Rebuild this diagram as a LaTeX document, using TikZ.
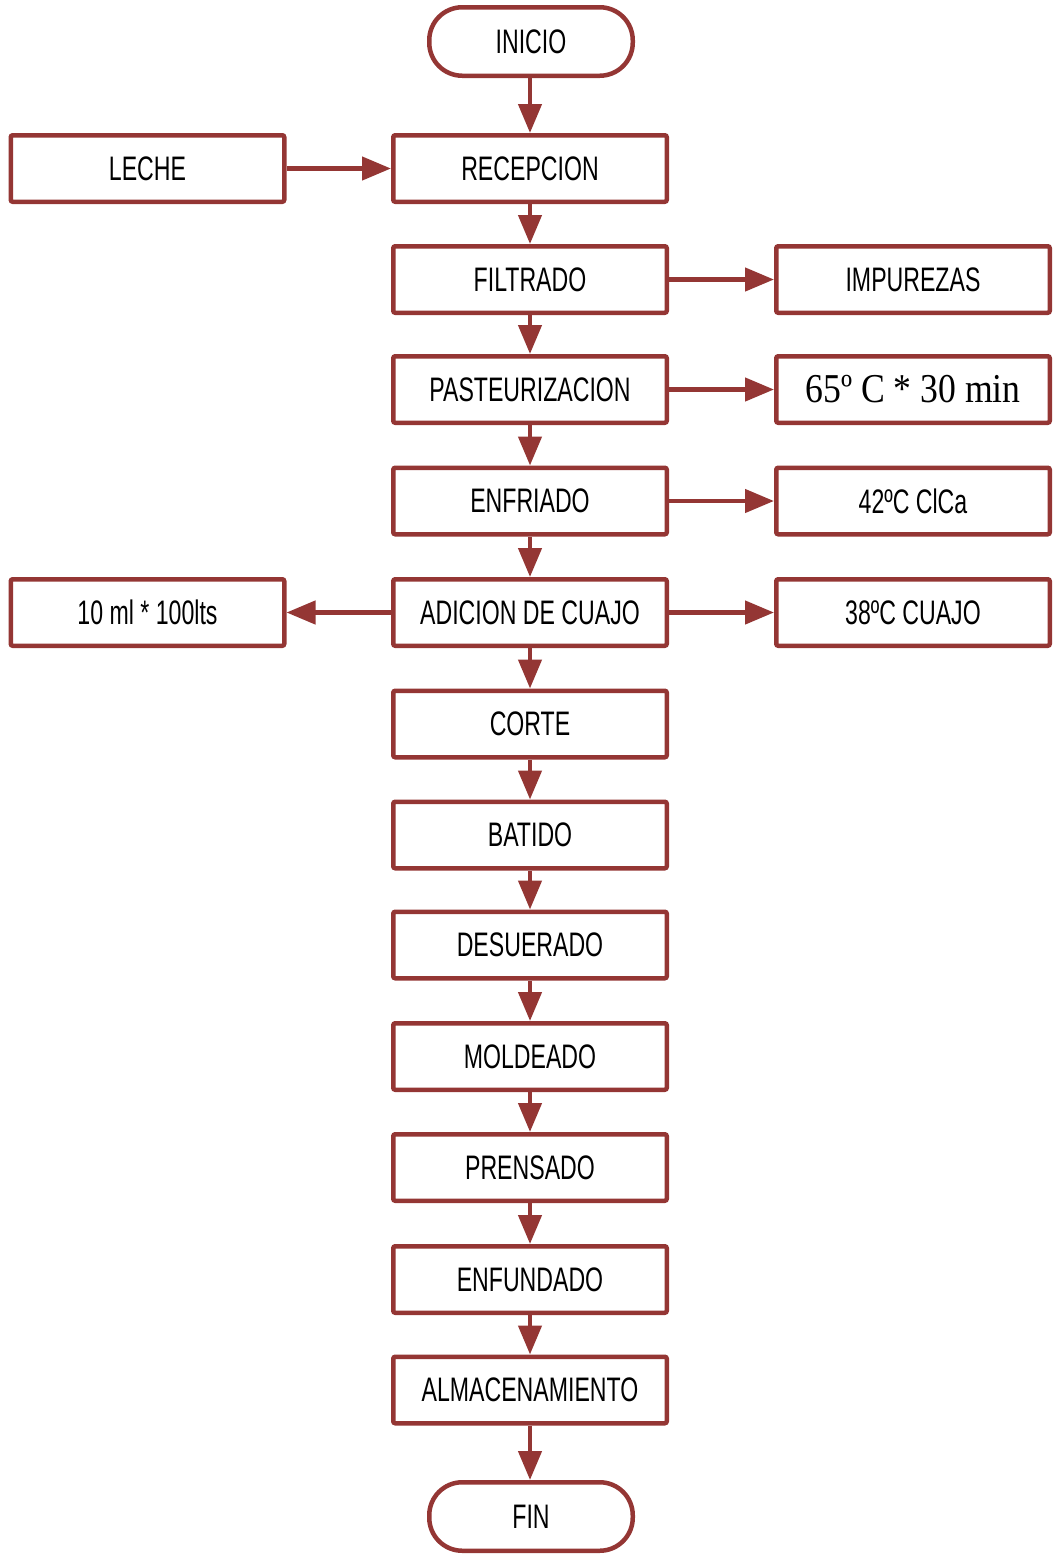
\documentclass[tikz,border=0pt]{standalone}
\usepackage{fontspec}
\usetikzlibrary{arrows.meta}
\newfontfamily\narfont{Liberation Sans}[FakeStretch=0.68]
\newfontfamily\serfont{Liberation Serif}[FakeStretch=0.87]
\definecolor{brick}{HTML}{943634}
\tikzset{
  box/.style={draw=brick, line width=4.5pt, rounded corners=2pt, minimum width=273.5pt, minimum height=66.5pt, inner sep=0pt, font=\narfont\fontsize{34}{37}\selectfont, fill=white},
  term/.style={draw=brick, line width=4.5pt, rounded corners=33pt, minimum width=203.5pt, minimum height=68.5pt, inner sep=0pt, font=\narfont\fontsize{34}{37}\selectfont},
  conn/.style={draw=brick, line width=4.5pt, -{Triangle[width=23pt,length=29pt]}}
}
\begin{document}
\begin{tikzpicture}[x=1pt,y=-1pt]
\useasboundingbox (0,0) rectangle (1054,1556);
\node[term] (ini) at (531,41.5) {INICIO};
\node[box] (rec) at (530,168.5) {RECEPCION};
\node[box] (lec) at (147.5,168.5) {LECHE};
\node[box] (fil) at (530,279.5) {FILTRADO};
\node[box] (imp) at (913,279.5) {IMPUREZAS};
\node[box] (pas) at (530,389.5) {PASTEURIZACION};
\node[box, font=\serfont\fontsize{41}{45}\selectfont] (tem) at (913,389.5) {65º C * 30 min};
\node[box] (enf) at (530,501) {ENFRIADO};
\node[box] (clc) at (913,501) {42ºC ClCa};
\node[box] (adi) at (530,612.5) {ADICION DE CUAJO};
\node[box] (dos) at (147.5,612.5) {10 ml * 100lts};
\node[box] (cua) at (913,612.5) {38ºC CUAJO};
\node[box] (cor) at (530,724) {CORTE};
\node[box] (bat) at (530,835) {BATIDO};
\node[box] (des) at (530,945) {DESUERADO};
\node[box] (mol) at (530,1056.5) {MOLDEADO};
\node[box] (pre) at (530,1167.5) {PRENSADO};
\node[box] (efu) at (530,1279.5) {ENFUNDADO};
\node[box] (alm) at (530,1390) {ALMACENAMIENTO};
\node[term] (fin) at (531,1516.5) {FIN};
\draw[conn] (ini.south -| rec.north) -- (rec.north);
\draw[conn] (lec) -- (rec);
\foreach \a/\b in {rec/fil, fil/pas, pas/enf, enf/adi, adi/cor, cor/bat, bat/des, des/mol, mol/pre, pre/efu, efu/alm}
  \draw[conn] (\a) -- (\b);
\draw[conn] (alm.south) -- (alm.south |- fin.north);
\draw[conn] (fil) -- (imp);
\draw[conn] (pas) -- (tem);
\draw[conn] (enf) -- (clc);
\draw[conn] (adi) -- (cua);
\draw[conn] (adi) -- (dos);
\end{tikzpicture}
\end{document}
